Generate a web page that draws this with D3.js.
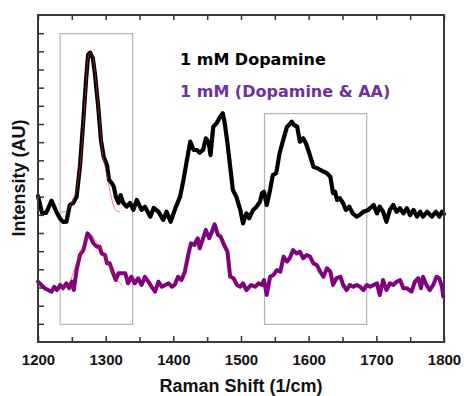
<!DOCTYPE html>
<html>
<head>
<meta charset="utf-8">
<script src="https://cdn.jsdelivr.net/npm/d3@7/dist/d3.min.js"></script>
<style>
  html, body { margin: 0; padding: 0; background: #ffffff; }
  svg { display: block; }
</style>
</head>
<body>
<svg id="chart" width="464" height="396"></svg>
<script>
// Raman spectra: 1 mM dopamine alone and 1 mM dopamine with ascorbic acid (AA)

// Raman shift (1/cm) and intensity (AU) for dopamine only
const dopamineShift = [1200,1206,1212,1220,1228,1233,1237,1242,1247,1252,1257,1262,1267,1271,1274,1277,1281,1284,1289,1293,1297,1302,1305,1309,1312,1315,1319,1322,1326,1331,1336,1341,1346,1353,1358,1366,1371,1378,1385,1390,1396,1403,1410,1415,1421,1425,1430,1435,1439,1444,1448,1452,1455,1459,1464,1469,1473,1476,1480,1484,1488,1493,1499,1503,1508,1512,1518,1523,1528,1531,1534,1538,1543,1547,1552,1557,1563,1568,1571,1575,1578,1583,1587,1592,1596,1601,1607,1613,1617,1622,1627,1632,1636,1639,1642,1646,1651,1655,1660,1665,1671,1675,1681,1688,1696,1701,1705,1710,1715,1720,1725,1730,1735,1740,1745,1750,1755,1760,1765,1769,1775,1782,1788,1793,1797,1800];
const dopamineIntensity = [8.04,7.10,7.10,7.78,7.10,6.77,6.61,6.62,7.54,7.65,8.00,9.65,12.22,14.42,15.80,15.93,15.63,14.81,12.95,11.12,10.20,9.74,8.92,8.75,8.55,8.00,7.65,8.09,7.65,7.45,7.65,7.27,7.82,7.27,7.45,6.90,7.38,7.17,6.72,7.17,6.62,7.36,8.00,8.92,10.20,11.03,10.57,10.57,10.42,10.57,11.21,11.03,10.29,11.85,12.04,12.40,12.59,12.04,10.94,9.65,8.37,8.00,7.27,6.53,7.08,6.81,7.27,7.45,7.72,8.19,8.27,7.54,8.37,9.19,9.29,10.39,11.21,11.85,11.95,12.13,11.95,11.85,11.03,11.21,10.94,10.39,9.65,9.56,9.47,9.38,9.29,9.10,8.19,8.27,7.82,7.91,7.64,7.27,7.45,7.08,6.90,6.99,7.17,7.27,7.54,7.08,7.45,7.17,6.62,7.27,7.54,7.17,7.36,7.08,7.36,6.99,7.27,6.90,7.17,6.90,7.17,6.90,7.17,6.90,7.17,7.05];

// Raman shift (1/cm) and intensity (AU) for dopamine with AA
const mixShift = [1200,1205,1210,1215,1220,1224,1228,1233,1237,1242,1246,1250,1253,1257,1262,1267,1269,1273,1277,1282,1287,1291,1294,1299,1302,1306,1311,1315,1319,1324,1329,1333,1338,1343,1348,1353,1358,1363,1368,1373,1378,1383,1388,1393,1398,1402,1407,1412,1417,1422,1426,1431,1436,1439,1444,1448,1453,1457,1461,1466,1470,1475,1480,1484,1489,1494,1499,1503,1508,1515,1521,1526,1531,1534,1538,1543,1548,1553,1558,1563,1568,1572,1577,1582,1587,1592,1597,1602,1607,1612,1617,1622,1627,1632,1636,1641,1647,1651,1656,1661,1666,1671,1676,1681,1686,1691,1696,1701,1705,1710,1715,1720,1725,1730,1735,1740,1745,1752,1757,1762,1766,1769,1774,1779,1784,1789,1793,1797,1799];
const mixIntensity = [3.32,3.14,2.96,2.86,2.77,3.04,2.86,3.14,2.96,3.23,2.96,3.32,2.86,3.96,4.79,5.06,5.34,5.98,5.80,5.43,5.25,5.25,4.88,4.79,4.33,4.33,3.78,3.41,3.78,3.78,3.78,3.23,3.59,3.23,3.51,3.14,3.59,3.32,3.04,2.77,3.32,3.04,3.14,3.23,3.04,3.14,3.59,3.41,3.87,4.79,5.43,5.34,5.71,5.16,5.71,6.17,5.71,6.07,6.48,5.89,5.80,5.34,4.97,3.59,3.51,3.14,3.04,3.23,2.86,3.14,3.04,3.23,3.14,3.41,2.59,3.59,3.69,3.96,3.87,4.70,4.42,4.61,5.06,4.88,4.97,4.61,4.79,4.70,4.33,4.24,3.87,3.59,4.06,3.87,3.14,3.51,3.59,3.14,2.86,3.14,3.04,3.14,3.04,2.86,3.14,3.04,3.14,3.23,2.59,3.41,2.86,3.23,3.14,3.32,3.41,2.96,2.96,2.77,3.32,3.51,2.96,3.59,3.14,2.86,3.14,3.59,3.51,3.04,2.49];

// Peak fits over the 1275 band
const fitDopamineShift = [1233,1241,1247,1252,1257,1262,1267,1271,1274,1277,1281,1284,1289,1293,1296,1302,1306,1311,1315,1321];
const fitDopamineIntensity = [7.16,7.18,7.43,7.87,8.37,9.58,11.95,14.15,15.63,15.94,15.69,14.86,13.05,11.40,10.18,9.19,8.37,7.60,7.24,7.16];
const fitMixShift = [1237,1243,1247,1252,1257,1262,1267,1274,1279,1284,1292,1299,1306,1314,1319,1324];
const fitMixIntensity = [3.03,3.11,3.30,3.80,4.35,4.80,5.25,5.80,5.89,5.62,5.25,4.70,4.15,3.59,3.32,3.17];

// Highlighted regions [from, to] in 1/cm and intensity
const regionShift = [[1232, 1339], [1534, 1685]];
const regionTop = [17, 12.6];
const regionBottom = 1;

const xTicks = [1200, 1300, 1400, 1500, 1600, 1700, 1800];
const xMinorTicks = [1250, 1350, 1450, 1550, 1650, 1750];
const yTicks = [1,2,3,4,5,6,7,8,9,10,11,12,13,14,15,16,17];

const legendLabels = ["1 mM Dopamine", "1 mM (Dopamine & AA)"];
const seriesColors = ["#000000", "#800080"];
const seriesWidths = [4.2, 4];
const legendColors = ["#000000", "#7030a0"];

const svg = d3.select("#chart");
const plotLeft = 38, plotRight = 444, plotTop = 15, plotBottom = 342;

const x = d3.scaleLinear().domain([1200, 1800]).range([plotLeft, plotRight]);
const y = d3.scaleLinear().domain([0, 18]).range([plotBottom, plotTop]);

// highlight boxes
svg.append("g").selectAll("rect").data(regionShift).join("rect")
  .attr("x", d => x(d[0]) + 0.5)
  .attr("y", (d, i) => y(regionTop[i]) + 0.5)
  .attr("width", d => x(d[1]) - x(d[0]))
  .attr("height", (d, i) => y(regionBottom) - y(regionTop[i]))
  .attr("fill", "none")
  .attr("stroke", "#b4b4b4")
  .attr("stroke-width", 1.2);

const line = d3.line().x(d => x(d[0])).y(d => y(d[1]));
const zip = (a, b) => a.map((v, i) => [v, b[i]]);

const spectra = [zip(dopamineShift, dopamineIntensity), zip(mixShift, mixIntensity)];
svg.append("g").selectAll("path").data(spectra).join("path")
  .attr("d", line)
  .attr("fill", "none")
  .attr("stroke", (d, i) => seriesColors[i])
  .attr("stroke-width", (d, i) => seriesWidths[i])
  .attr("stroke-linejoin", "round")
  .attr("stroke-linecap", "round");

const fitLine = d3.line().x(d => x(d[0])).y(d => y(d[1])).curve(d3.curveCatmullRom);
const fits = [zip(fitDopamineShift, fitDopamineIntensity), zip(fitMixShift, fitMixIntensity)];
svg.append("g").selectAll("path").data(fits).join("path")
  .attr("d", fitLine)
  .attr("fill", "none")
  .attr("stroke", "#e03030")
  .attr("stroke-opacity", 0.6)
  .attr("stroke-width", 1);

// axes with inward ticks
const tickColor = "#333333";
const xAxisBottom = svg.append("g").attr("transform", `translate(0,${plotBottom})`)
  .call(d3.axisBottom(x).tickValues(xTicks).tickSize(-6).tickPadding(12).tickFormat(d3.format("d")));
svg.append("g").attr("transform", `translate(0,${plotBottom})`)
  .call(d3.axisBottom(x).tickValues(xMinorTicks).tickSize(-5).tickFormat(""))
  .select(".domain").remove();
svg.append("g").attr("transform", `translate(0,${plotTop})`)
  .call(d3.axisTop(x).tickValues(xTicks.concat(xMinorTicks)).tickSize(-5).tickFormat(""))
  .select(".domain").remove();
svg.append("g").attr("transform", `translate(${plotLeft},0)`)
  .call(d3.axisLeft(y).tickValues(yTicks).tickSize(-6).tickFormat(""))
  .select(".domain").remove();

svg.selectAll(".tick line").attr("stroke", tickColor).attr("stroke-width", 1.5);
xAxisBottom.select(".domain").remove();
xAxisBottom.selectAll(".tick text")
  .attr("font-family", "'Liberation Sans', Arial, sans-serif")
  .attr("font-weight", "bold")
  .attr("font-size", 15)
  .attr("fill", "#111111");

// plot frame
svg.append("rect")
  .attr("x", plotLeft).attr("y", plotTop)
  .attr("width", plotRight - plotLeft).attr("height", plotBottom - plotTop)
  .attr("fill", "none")
  .attr("stroke", "#3a3a3a")
  .attr("stroke-width", 2);

// axis titles
svg.append("text")
  .attr("x", (plotLeft + plotRight) / 2).attr("y", 392)
  .attr("text-anchor", "middle")
  .attr("font-family", "'Liberation Sans', Arial, sans-serif")
  .attr("font-weight", "bold").attr("font-size", 18).attr("fill", "#111111")
  .text("Raman Shift (1/cm)");
svg.append("text")
  .attr("transform", `translate(25,${(118 + 238) / 2}) rotate(-90)`)
  .attr("text-anchor", "middle")
  .attr("font-family", "'Liberation Sans', Arial, sans-serif")
  .attr("font-weight", "bold").attr("font-size", 18).attr("fill", "#111111")
  .text("Intensity (AU)");

// legend labels
svg.append("g").selectAll("text").data(legendLabels).join("text")
  .attr("x", 180)
  .attr("y", (d, i) => 65 + i * 32)
  .attr("font-family", "'DejaVu Sans', sans-serif")
  .attr("font-weight", "bold")
  .attr("font-size", 16)
  .attr("fill", (d, i) => legendColors[i])
  .text(d => d);
</script>
</body>
</html>
